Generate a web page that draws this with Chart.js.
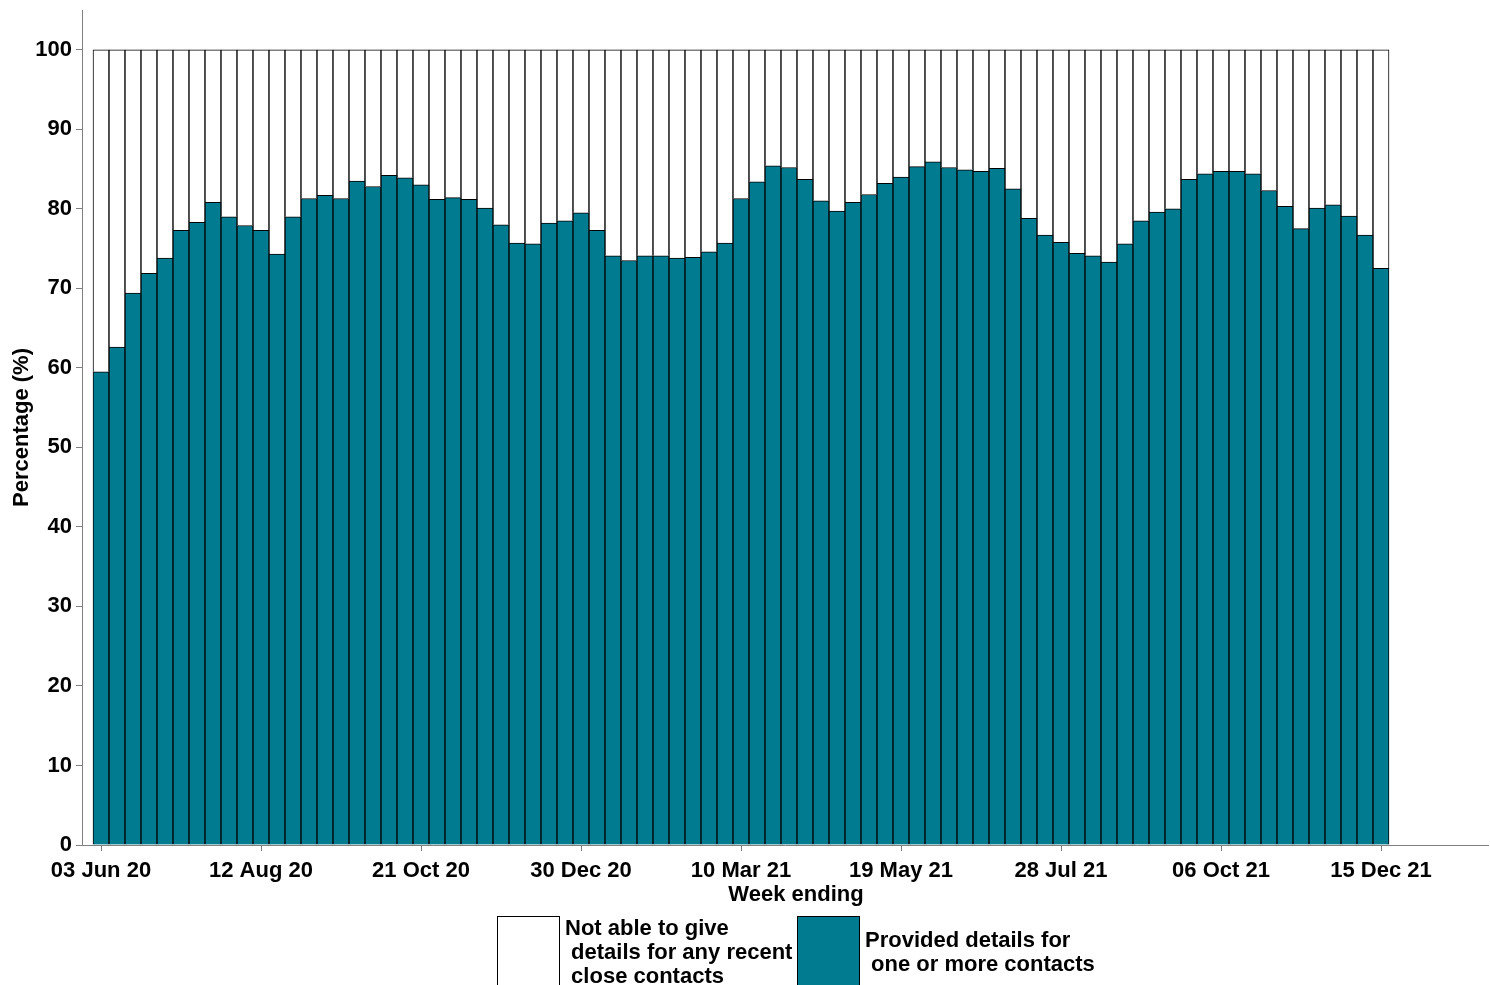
<!DOCTYPE html>
<html>
<head>
<meta charset="utf-8">
<title>Close contacts by week</title>
<script src="https://cdn.jsdelivr.net/npm/chart.js@4.4.1/dist/chart.umd.min.js"></script>
<style>
  html, body { margin: 0; padding: 0; background: #fff; }
  #wrap { position: relative; width: 1490px; height: 985px; overflow: hidden; }
  .key { position: absolute; top: 916px; width: 63px; height: 80px; border: 1px solid #000; box-sizing: border-box; }
  .key-text { position: absolute; font: bold 22px "Liberation Sans", Arial, sans-serif; line-height: 24px; white-space: pre; color: #000; }
</style>
</head>
<body>
<div id="wrap">
  <canvas id="chart" width="1490" height="985"></canvas>
  <div class="key-text" style="left:596px;width:400px;text-align:center;top:882px">Week ending</div>
  <div class="key" style="left:497px;background:#fff"></div>
  <div class="key-text" style="left:565px;top:916px">Not able to give
 details for any recent
 close contacts</div>
  <div class="key" style="left:797px;background:#007b8f"></div>
  <div class="key-text" style="left:865px;top:928px">Provided details for
 one or more contacts</div>
</div>
<script>
// week ending dates, weekly from 03 Jun 2020
const months = ['Jan','Feb','Mar','Apr','May','Jun','Jul','Aug','Sep','Oct','Nov','Dec'];
const weeks = [];
for (let i = 0; i < 81; i++) {
  const d = new Date(Date.UTC(2020, 5, 3 + i * 7));
  weeks.push(String(d.getUTCDate()).padStart(2, '0') + ' ' + months[d.getUTCMonth()] + ' ' + String(d.getUTCFullYear()).slice(2));
}

const tickLabels = ['03 Jun 20', '12 Aug 20', '21 Oct 20', '30 Dec 20', '10 Mar 21',
  '19 May 21', '28 Jul 21', '06 Oct 21', '15 Dec 21'];

const yTicks = [0, 10, 20, 30, 40, 50, 60, 70, 80, 90, 100];

// % provided details for one or more contacts
const provided = [
  59.5, 62.6, 69.4, 71.9, 73.8, 77.3, 78.3, 80.8, 79.0, 77.9,
  77.3, 74.3, 79.0, 81.3, 81.7, 81.3, 83.5, 82.8, 84.2, 83.9,
  83.0, 81.2, 81.4, 81.2, 80.1, 78.0, 75.7, 75.6, 78.2, 78.5,
  79.5, 77.3, 74.1, 73.5, 74.1, 74.1, 73.8, 73.9, 74.6, 75.7,
  81.3, 83.4, 85.4, 85.2, 83.7, 81.0, 79.7, 80.8, 81.8, 83.2,
  84.0, 85.3, 85.9, 85.2, 84.9, 84.7, 85.1, 82.5, 78.8, 76.7,
  75.8, 74.4, 74.1, 73.3, 75.6, 78.5, 79.6, 80.0, 83.7, 84.4,
  84.7, 84.7, 84.4, 82.3, 80.3, 77.5, 80.1, 80.5, 79.1, 76.7,
  72.5
];

// % not able to give details for any recent close contacts
const notAble = [
  40.5, 37.4, 30.6, 28.1, 26.2, 22.7, 21.7, 19.2, 21.0, 22.1,
  22.7, 25.7, 21.0, 18.7, 18.3, 18.7, 16.5, 17.2, 15.8, 16.1,
  17.0, 18.8, 18.6, 18.8, 19.9, 22.0, 24.3, 24.4, 21.8, 21.5,
  20.5, 22.7, 25.9, 26.5, 25.9, 25.9, 26.2, 26.1, 25.4, 24.3,
  18.7, 16.6, 14.6, 14.8, 16.3, 19.0, 20.3, 19.2, 18.2, 16.8,
  16.0, 14.7, 14.1, 14.8, 15.1, 15.3, 14.9, 17.5, 21.2, 23.3,
  24.2, 25.6, 25.9, 26.7, 24.4, 21.5, 20.4, 20.0, 16.3, 15.6,
  15.3, 15.3, 15.6, 17.7, 19.7, 22.5, 19.9, 19.5, 20.9, 23.3,
  27.5
];

const font = { family: '"Liberation Sans", Arial, sans-serif', size: 22, weight: 'bold' };
const axisGrey = '#808080';

new Chart(document.getElementById('chart'), {
  type: 'bar',
  data: {
    datasets: [
      {
        label: 'Provided details for one or more contacts',
        data: provided.map((v, i) => ({ x: i, y: v })),
        backgroundColor: '#007b8f',
        borderColor: '#000',
        borderWidth: 1,
        barPercentage: 1,
        categoryPercentage: 1
      },
      {
        label: 'Not able to give details for any recent close contacts',
        data: notAble.map((v, i) => ({ x: i, y: v })),
        backgroundColor: '#fff',
        borderColor: '#000',
        borderWidth: 1,
        barPercentage: 1,
        categoryPercentage: 1
      }
    ]
  },
  options: {
    responsive: false,
    animation: false,
    devicePixelRatio: 1,
    layout: { padding: { left: 0, right: 2, top: 10, bottom: 70 } },
    plugins: {
      legend: { display: false },
      tooltip: {
        callbacks: { title: items => weeks[items[0].parsed.x] }
      }
    },
    scales: {
      x: {
        type: 'linear',
        stacked: true,
        offset: false,
        min: -1.1875,
        max: 86.6875,
        afterBuildTicks: axis => {
          axis.ticks = tickLabels.map(l => ({ value: weeks.indexOf(l) }));
        },
        afterFit: scale => {
          scale.height = 70;
          scale.paddingLeft = 0;
          scale.paddingRight = 0;
        },
        ticks: {
          autoSkip: false,
          maxRotation: 0,
          padding: 7,
          color: '#000',
          font: font,
          callback: value => weeks[value]
        },
        grid: { offset: false, drawOnChartArea: false, drawTicks: true, tickLength: 6, color: axisGrey },
        border: { display: true, color: axisGrey, width: 1 },
        title: { display: false }
      },
      y: {
        stacked: true,
        min: 0,
        max: 105,
        afterBuildTicks: axis => {
          axis.ticks = yTicks.map(v => ({ value: v }));
        },
        afterFit: scale => {
          scale.width = 82;
          scale.paddingTop = 0;
          scale.paddingBottom = 0;
        },
        ticks: { padding: 4, color: '#000', font: font },
        grid: { drawOnChartArea: false, drawTicks: true, tickLength: 6, color: axisGrey },
        border: { display: true, color: axisGrey, width: 1 },
        title: { display: true, text: 'Percentage (%)', color: '#000', font: font, padding: { top: 9, bottom: 0 } }
      }
    }
  }
});
</script>
</body>
</html>
